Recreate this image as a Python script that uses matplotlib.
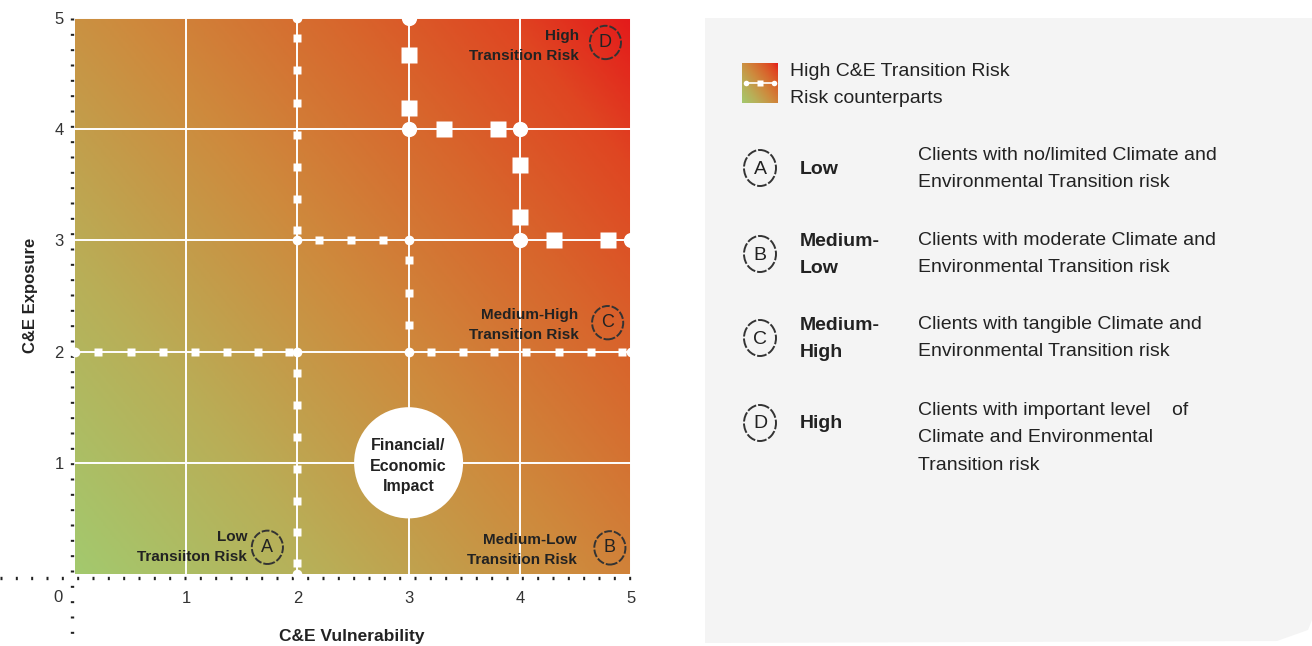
import numpy as np
import matplotlib
matplotlib.use('Agg')
import matplotlib.pyplot as plt
from matplotlib import font_manager
from matplotlib.colors import LinearSegmentedColormap
from matplotlib.patches import Ellipse, Polygon

W, H = 1312, 646

# condensed font if we have it
names = {f.name for f in font_manager.fontManager.ttflist}
FONT = 'Liberation Sans Narrow' if 'Liberation Sans Narrow' in names else 'Liberation Sans'
plt.rcParams['font.family'] = [FONT, 'DejaVu Sans']
TXT = '#222222'

# --- chart data ---
grid_vals = [1, 2, 3, 4, 5]
tick_labels = ['1', '2', '3', '4', '5']

# horizontal boundary segments (small squares): y level and marker x positions
small_h_y = [2, 3, 2]
small_h_marks = [[0.21, 0.50, 0.79, 1.08, 1.37, 1.65, 1.92],
                 [2.19, 2.48, 2.77],
                 [3.20, 3.49, 3.77, 4.06, 4.35, 4.64, 4.92]]
# vertical boundary segments (small squares): x level and marker y positions
small_v_x = [2, 2, 3]
small_v_marks = [[4.82, 4.53, 4.24, 3.95, 3.66, 3.37, 3.09],
                 [1.81, 1.52, 1.23, 0.94, 0.66, 0.38, 0.10],
                 [2.82, 2.53, 2.24]]
# high risk boundary (big squares)
big_h_y = [4, 3]
big_h_marks = [[3.32, 3.80], [4.31, 4.79]]
big_v_x = [3, 4]
big_v_marks = [[4.67, 4.19], [3.68, 3.21]]
small_nodes_x = [0, 2, 2, 3, 3, 5, 2, 2]
small_nodes_y = [2, 2, 3, 3, 2, 2, 5, 0]
big_nodes_x = [3, 3, 4, 4, 5]
big_nodes_y = [5, 4, 4, 3, 3]

zone_letters = ['A', 'B', 'C', 'D']
zone_labels = ['Low\nTransiiton Risk', 'Medium-Low\nTransition Risk',
               'Medium-High\nTransition Risk', 'High\nTransition Risk']
impact_label = 'Financial/\nEconomic\nImpact'

legend_title = 'High C&E Transition Risk\nRisk counterparts'
legend_names = ['Low', 'Medium-\nLow', 'Medium-\nHigh', 'High']
legend_desc = ['Clients with no/limited Climate and\nEnvironmental Transition risk',
               'Clients with moderate Climate and\nEnvironmental Transition risk',
               'Clients with tangible Climate and\nEnvironmental Transition risk',
               'Clients with important level    of\nClimate and Environmental\nTransition risk']

# --- layout (pixels) ---
zone_text_xy = [(1.55, 0.24), (4.51, 0.215), (4.53, 2.24), (4.53, 4.75)]
zone_circ_xy = [(1.73, 0.24), (4.81, 0.235), (4.79, 2.26), (4.77, 4.78)]
legend_row_y = [168, 254, 338, 423]
legend_desc_y = [169, 254, 338, 438]

cmap = LinearSegmentedColormap.from_list('risk', [
    (0.00, '#a3c96e'), (0.25, '#b9ae57'), (0.50, '#ce8a3d'),
    (0.72, '#d8652c'), (0.88, '#df4622'), (1.00, '#e41b1b')])

gx, gy = np.meshgrid(np.linspace(0, 5, 300), np.linspace(0, 5, 300))
grad = 0.55 * gx / 5 + 0.45 * gy / 5

fig = plt.figure(figsize=(W / 100, H / 100), dpi=100)

# overlay in pixel coordinates for panel, dotted axes, legend
bg = fig.add_axes([0, 0, 1, 1], zorder=0)
bg.set_xlim(0, W)
bg.set_ylim(H, 0)
bg.axis('off')

bg.add_patch(Polygon([(705, 18), (1312, 18), (1312, 620), (1308, 630),
                      (1277, 641), (705, 643)], closed=True,
                     facecolor='#f4f4f4', edgecolor='none'))

# dotted axis lines running past the plot
bg.plot([72, 72], [18, 646], color='#222222', lw=2.4, ls=(0, (0.6, 4)),
        dash_capstyle='butt')
bg.plot([0, 632], [578, 578], color='#222222', lw=2.4, ls=(0, (0.6, 4)),
        dash_capstyle='butt')
bg.text(58, 598, '0', fontsize=12, color='#333333', ha='center', va='center')

bg.text(352, 636, 'C&E Vulnerability', fontsize=12.5, fontweight='bold',
        color=TXT, ha='center', va='center')
bg.text(30, 295, 'C&E Exposure', fontsize=12, fontweight='bold', color=TXT,
        ha='center', va='center', rotation=90)

# main chart
L, R, T, B = 75, 631, 18, 574
ax = fig.add_axes([L / W, 1 - B / H, (R - L) / W, (B - T) / H], zorder=1)
ax.imshow(grad, extent=(0, 5, 0, 5), origin='lower', cmap=cmap,
          aspect='auto', vmin=0, vmax=1, zorder=0)
ax.set_xlim(0, 5)
ax.set_ylim(0, 5)
for s in ax.spines.values():
    s.set_visible(False)
ax.set_xticks(grid_vals)
ax.set_xticklabels(tick_labels)
ax.set_yticks(grid_vals)
ax.set_yticklabels(tick_labels)
ax.tick_params(axis='x', length=0, pad=12, labelsize=12, labelcolor='#333333')
ax.tick_params(axis='y', length=0, pad=8, labelsize=12, labelcolor='#333333')
for v in grid_vals:
    ax.axvline(v, color='white', lw=1.4, zorder=2)
    ax.axhline(v, color='white', lw=1.4, zorder=2)

for y, xs in zip(small_h_y, small_h_marks):
    ax.plot(xs, [y] * len(xs), 's', color='white', ms=5.5, mec='none', zorder=3)
for x, ys in zip(small_v_x, small_v_marks):
    ax.plot([x] * len(ys), ys, 's', color='white', ms=5.5, mec='none', zorder=3)
for y, xs in zip(big_h_y, big_h_marks):
    ax.plot(xs, [y] * len(xs), 's', color='white', ms=11, mec='none', zorder=3)
for x, ys in zip(big_v_x, big_v_marks):
    ax.plot([x] * len(ys), ys, 's', color='white', ms=11, mec='none', zorder=3)
ax.plot(small_nodes_x, small_nodes_y, 'o', color='white', ms=7, mec='none',
        zorder=3, clip_on=False)
ax.plot(big_nodes_x, big_nodes_y, 'o', color='white', ms=11, mec='none',
        zorder=3, clip_on=False)

# impact bubble
ax.add_patch(Ellipse((3, 1), 0.98, 1.0, facecolor='white', edgecolor='none',
                     zorder=4))
ax.text(3, 0.97, impact_label, fontsize=11.5, fontweight='bold', color=TXT,
        ha='center', va='center', linespacing=1.45, zorder=5)

for lab, let, (tx, ty), (cx, cy) in zip(zone_labels, zone_letters,
                                        zone_text_xy, zone_circ_xy):
    ax.text(tx, ty, lab, fontsize=11, fontweight='bold', color=TXT,
            ha='right', va='center', multialignment='right',
            linespacing=1.55, zorder=5)
    ax.add_patch(Ellipse((cx, cy), 0.28, 0.3, facecolor='none',
                         edgecolor='#333333', lw=1.4, ls=(0, (4, 1)), zorder=5))
    ax.text(cx, cy, let, fontsize=13, color=TXT, ha='center', va='center',
            zorder=6)

# legend: gradient icon
icon = fig.add_axes([742 / W, 1 - 103 / H, 36 / W, 40 / H], zorder=2)
icon.imshow(grad, extent=(0, 5, 0, 5), origin='lower', cmap=cmap,
            aspect='auto', vmin=0, vmax=1)
icon.plot([0.6, 4.4], [2.5, 2.5], color='white', lw=1.2)
icon.plot([0.6, 4.4], [2.5, 2.5], 'o', color='white', ms=4, mec='none')
icon.plot([2.5], [2.5], 's', color='white', ms=4, mec='none')
icon.set_xlim(0, 5)
icon.set_ylim(0, 5)
icon.axis('off')

bg.text(790, 85, legend_title, fontsize=14, color=TXT, ha='left',
        va='center', linespacing=1.8)

for let, nm, desc, ry, dy in zip(zone_letters, legend_names, legend_desc,
                                 legend_row_y, legend_desc_y):
    bg.add_patch(Ellipse((760, ry), 32, 36, facecolor='none',
                         edgecolor='#333333', lw=1.4, ls=(0, (5, 1))))
    bg.text(760, ry + 1, let, fontsize=14, color=TXT, ha='center', va='center')
    bg.text(800, ry + 1, nm, fontsize=14, fontweight='bold', color=TXT,
            ha='left', va='center', linespacing=1.75)
    bg.text(918, dy, desc, fontsize=14, color=TXT, ha='left', va='center',
            linespacing=1.8)

fig.savefig('out.png', dpi=100)
